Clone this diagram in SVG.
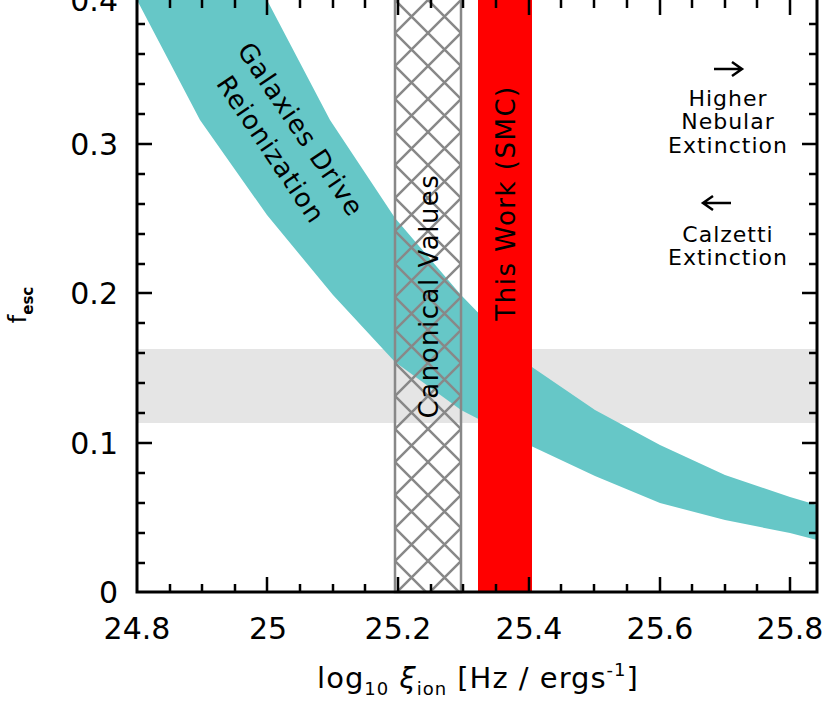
<svg xmlns="http://www.w3.org/2000/svg" width="830" height="715" viewBox="0 0 830 715">
<style>
text{font-family:"DejaVu Sans","Liberation Sans",sans-serif;fill:#000}
.t{font-size:22px;letter-spacing:1px}
.ax{stroke:#000;stroke-width:3;fill:none}
</style>
<defs>
<pattern id="hatch" patternUnits="userSpaceOnUse" x="395" y="0" width="33" height="33">
<path d="M0,0L33,33M33,0L0,33" stroke="#888" stroke-width="2.5"/>
</pattern>
</defs>
<rect width="830" height="715" fill="#fff"/>
<g id="grayband"><rect x="137" y="349" width="680" height="74" fill="#e5e5e5"/></g>
<g id="band"><path d="M137,-6L267,0L330,120L395,218L461,295L529,365L595,410L660,445L725,475L790,497L817,505L817,540L790,533L725,520L660,503L595,476L529,445L461,410L395,362L333,295L267,215L200,120L137,0Z" fill="#66c7c7"/></g>
<g id="canon"><rect x="395" y="-2" width="66" height="594" fill="url(#hatch)" stroke="#888" stroke-width="2.5"/></g>
<g id="thiswork"><rect x="478" y="-2" width="54" height="594" fill="#ff0000"/></g>
<g id="axes">
<path class="ax" d="M137,0V592H817V0"/>
<path stroke="#000" stroke-width="2.5" d="M137,144h15M137,293h15M137,443h15M817,144h-15M817,293h-15M817,443h-15
M137,24h8M137,54h8M137,84h8M137,114h8M137,174h8M137,204h8M137,234h8M137,264h8M137,323h8M137,353h8M137,383h8M137,413h8M137,473h8M137,503h8M137,533h8M137,563h8
M817,24h-8M817,54h-8M817,84h-8M817,114h-8M817,174h-8M817,204h-8M817,234h-8M817,264h-8M817,323h-8M817,353h-8M817,383h-8M817,413h-8M817,473h-8M817,503h-8M817,533h-8M817,563h-8
M267,592v-15M398,592v-15M529,592v-15M660,592v-15M790,592v-15M267,0v15M398,0v15M529,0v15M660,0v15M790,0v15
M170,592v-8M202,592v-8M235,592v-8M300,592v-8M333,592v-8M365,592v-8M431,592v-8M463,592v-8M496,592v-8M561,592v-8M594,592v-8M627,592v-8M692,592v-8M725,592v-8M757,592v-8
M170,0v8M202,0v8M235,0v8M300,0v8M333,0v8M365,0v8M431,0v8M463,0v8M496,0v8M561,0v8M594,0v8M627,0v8M692,0v8M725,0v8M757,0v8"/>
</g>
<g id="ylabels" font-size="30" text-anchor="end">
<text x="118" y="11">0.4</text>
<text x="118" y="155">0.3</text>
<text x="118" y="304">0.2</text>
<text x="118" y="454">0.1</text>
<text x="118" y="603">0</text>
</g>
<g id="xlabels" font-size="30" text-anchor="middle">
<text x="137" y="639">24.8</text>
<text x="268" y="639">25</text>
<text x="398" y="639">25.2</text>
<text x="529" y="639">25.4</text>
<text x="660" y="639">25.6</text>
<text x="790" y="639">25.8</text>
</g>
<g id="xtitle"><text x="478" y="688" font-size="29" text-anchor="middle" letter-spacing="1">log<tspan font-size="18" dy="7">10</tspan><tspan dy="-7"> </tspan><tspan font-style="italic">ξ</tspan><tspan font-size="18" dy="7">ion</tspan><tspan dy="-7"> [Hz / ergs</tspan><tspan font-size="18" dy="-12">-1</tspan><tspan dy="12">]</tspan></text></g>
<g id="ytitle"><text transform="translate(26,305) rotate(-90)" font-size="24" text-anchor="middle">f<tspan font-size="15" dy="7" font-weight="bold">esc</tspan></text></g>
<g id="label-galaxies" transform="translate(285,140) rotate(56)" font-size="26" text-anchor="middle" letter-spacing="1">
<text x="0" y="-10">Galaxies  Drive</text>
<text x="0" y="26">Reionization</text>
</g>
<g id="label-canon"><text transform="translate(438,296) rotate(-90)" font-size="26" text-anchor="middle" letter-spacing="1.5">Canonical Values</text></g>
<g id="label-thiswork"><text transform="translate(515,203) rotate(-90)" font-size="26" text-anchor="middle" letter-spacing="1.5">This Work  (SMC)</text></g>
<g id="note-higher" class="t" text-anchor="middle">
<path d="M714,69h28M732,62l10,7l-10,7" stroke="#000" stroke-width="2.5" fill="none"/>
<text x="728" y="106">Higher</text>
<text x="728" y="129">Nebular</text>
<text x="728" y="153">Extinction</text>
</g>
<g id="note-calzetti" class="t" text-anchor="middle">
<path d="M731,203h-28M713,196l-10,7l10,7" stroke="#000" stroke-width="2.5" fill="none"/>
<text x="728" y="242">Calzetti</text>
<text x="728" y="265">Extinction</text>
</g>
</svg>
